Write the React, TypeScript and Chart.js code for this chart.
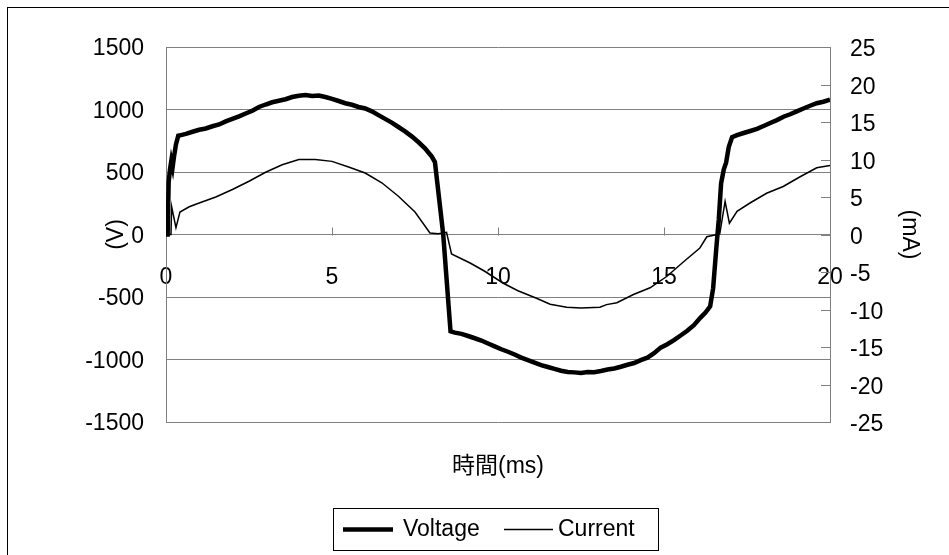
import React, { useEffect, useRef } from "react";
import { Chart, registerables } from "chart.js";

Chart.register(...registerables);

// Voltage trace: sample times (ms) and values (V)
const voltageTimeMs = [
  0, 0.05, 0.08, 0.12, 0.16, 0.2, 0.24, 0.3, 0.37, 0.45, 0.6, 0.8, 1.0, 1.2, 1.4, 1.6, 1.8,
  2.0, 2.2, 2.4, 2.6, 2.8, 3.0, 3.2, 3.4, 3.6, 3.8, 4.0, 4.2, 4.4, 4.6, 4.8, 5.0, 5.2, 5.4,
  5.6, 5.8, 6.0, 6.2, 6.4, 6.6, 6.8, 7.0, 7.2, 7.4, 7.6, 7.8, 8.0, 8.1, 8.35, 8.57, 8.7, 8.9,
  9.1, 9.3, 9.5, 9.7, 9.9, 10.1, 10.3, 10.5, 10.7, 10.9, 11.1, 11.3, 11.5, 11.7, 11.9, 12.1,
  12.3, 12.5, 12.7, 12.9, 13.1, 13.3, 13.5, 13.7, 13.9, 14.1, 14.3, 14.5, 14.7, 14.9, 15.1,
  15.3, 15.5, 15.7, 15.9, 16.1, 16.25, 16.39, 16.48, 16.58, 16.65, 16.72, 16.8, 16.87, 16.95,
  17.05, 17.2, 17.4, 17.6, 17.8, 18.0, 18.2, 18.4, 18.6, 18.8, 19.0, 19.2, 19.4, 19.6, 19.8, 20.0,
];
const voltageV = [
  0, 0, 420, 520, 590, 540, 620, 720, 790, 795, 805, 822, 838, 848, 866, 880, 905,
  925, 945, 968, 990, 1020, 1040, 1058, 1070, 1082, 1100, 1110, 1115, 1108, 1112, 1100, 1085, 1068, 1050,
  1038, 1020, 1008, 985, 955, 925, 895, 860, 825, 785, 740, 690, 625, 580, 0, -775, -785, -795,
  -812, -830, -848, -872, -895, -918, -938, -960, -985, -1005, -1025, -1045, -1060, -1075, -1090, -1100,
  -1103, -1108, -1100, -1102, -1092, -1080, -1072, -1058, -1042, -1028, -1005, -985, -950, -905, -878,
  -845, -808, -770, -725, -665, -625, -575, -430, -95, 120, 410, 520, 575, 700,
  778, 795, 812, 828, 845, 868, 892, 915, 942, 962, 985, 1008, 1030, 1050, 1062, 1078,
];

// Current trace: sample times (ms) and values (mA)
const currentTimeMs = [
  0, 0.15, 0.17, 0.3, 0.42, 0.7, 1.0, 1.5, 2.0, 2.5, 3.0, 3.5, 4.0, 4.5, 5.0, 5.5, 6.0, 6.5,
  7.0, 7.5, 7.95, 8.2, 8.45, 8.6, 9.16, 9.6, 10.16, 10.6, 11.16, 11.57, 12.07, 12.5, 13.07,
  13.27, 13.58, 14.08, 14.58, 15.08, 15.6, 16.08, 16.29, 16.6, 16.68, 16.84, 16.97, 17.2,
  17.59, 18.09, 18.59, 19.1, 19.6, 20.0,
];
const currentMA = [
  0, 0, 3.7, 0.9, 3.0, 3.7, 4.2, 5.0, 6.0, 7.1, 8.3, 9.3, 10.0, 10.0, 9.75, 9.0, 8.2, 6.9,
  5.1, 3.0, 0.2, 0.1, 0.3, -2.6, -3.8, -4.9, -6.5, -7.5, -8.5, -9.3, -9.7, -9.8, -9.7,
  -9.35, -9.1, -8.0, -7.1, -5.6, -3.6, -1.8, -0.3, 0, 0.1, 4.4, 1.5, 3.1,
  4.2, 5.5, 6.4, 7.7, 8.9, 9.2,
];

const timeTicks = [0, 5, 10, 15, 20];
const voltageTicks = [-1500, -1000, -500, 0, 500, 1000, 1500];
const currentTicks = [-25, -20, -15, -10, -5, 0, 5, 10, 15, 20, 25];

const seriesNames = ["Voltage", "Current"];
const timeTitle = "時間(ms)";
const voltageTitle = "(V)";
const currentTitle = "(mA)";

const FONT = '"Liberation Sans", Arial, sans-serif';
const TITLE_FONT = '"Liberation Sans", "Noto Sans CJK JP", sans-serif';
const FONT_SIZE = 23;
const AXIS_GRAY = "#808080";

const decorPlugin = {
  id: "decor",
  beforeDraw(chart: any) {
    const { ctx, width, height } = chart;
    ctx.save();
    ctx.fillStyle = "#fff";
    ctx.fillRect(0, 0, width, height);
    // outer frame (runs off the right and bottom edges)
    ctx.strokeStyle = "#000";
    ctx.lineWidth = 1;
    ctx.strokeRect(7.5, 7.5, width + 20, height + 20);
    ctx.restore();
  },
  beforeDatasetsDraw(chart: any) {
    const { ctx, scales } = chart;
    const x = scales.x;
    const y = scales.y;
    const y1 = scales.y1;
    ctx.save();
    ctx.strokeStyle = AXIS_GRAY;
    ctx.lineWidth = 1;
    // time ticks rising from the zero line
    const zero = Math.round(y.getPixelForValue(0)) + 0.5;
    ctx.beginPath();
    timeTicks.forEach((t) => {
      const px = Math.round(x.getPixelForValue(t)) + 0.5;
      ctx.moveTo(px, zero);
      ctx.lineTo(px, zero - 8);
    });
    // current-axis ticks pointing into the plot
    const right = Math.round(y1.left);
    currentTicks.forEach((v) => {
      const py = Math.round(y1.getPixelForValue(v)) + 0.5;
      ctx.moveTo(right, py);
      ctx.lineTo(right - 9, py);
    });
    ctx.stroke();
    ctx.restore();
  },
  afterDraw(chart: any) {
    const { ctx, chartArea } = chart;
    ctx.save();
    ctx.fillStyle = "#000";
    ctx.textAlign = "center";
    ctx.textBaseline = "middle";
    ctx.font = `${FONT_SIZE}px ${TITLE_FONT}`;

    const midY = (chartArea.top + chartArea.bottom) / 2;
    ctx.save();
    ctx.translate(117, midY);
    ctx.rotate(-Math.PI / 2);
    ctx.fillText(voltageTitle, 0, 0);
    ctx.restore();

    ctx.save();
    ctx.translate(909, midY);
    ctx.rotate(Math.PI / 2);
    ctx.fillText(currentTitle, 0, 0);
    ctx.restore();

    ctx.fillText(timeTitle, (chartArea.left + chartArea.right) / 2, 467);

    // legend
    const ds = chart.data.datasets;
    ctx.strokeStyle = "#000";
    ctx.lineWidth = 1;
    ctx.strokeRect(333.5, 508.5, 325, 42);
    const ly = 529.5;
    ctx.font = `${FONT_SIZE}px ${FONT}`;
    ctx.textAlign = "left";
    const items = [
      { x0: 343, x1: 393, tx: 403 },
      { x0: 504, x1: 553, tx: 558 },
    ];
    items.forEach((it, i) => {
      ctx.beginPath();
      ctx.lineWidth = ds[i].borderWidth;
      ctx.strokeStyle = ds[i].borderColor;
      ctx.moveTo(it.x0, ly);
      ctx.lineTo(it.x1, ly);
      ctx.stroke();
      ctx.fillText(seriesNames[i], it.tx, ly);
    });
    ctx.restore();
  },
};

export default function App() {
  const canvasRef = useRef<HTMLCanvasElement | null>(null);

  useEffect(() => {
    const canvas = canvasRef.current;
    if (!canvas) return;
    const tickFont = { family: FONT, size: FONT_SIZE };
    const chart = new Chart(canvas, {
      type: "line",
      data: {
        datasets: [
          {
            label: seriesNames[0],
            data: voltageTimeMs.map((t, i) => ({ x: t, y: voltageV[i] })),
            borderColor: "#000",
            borderWidth: 4.5,
            pointRadius: 0,
            tension: 0,
            yAxisID: "y",
          },
          {
            label: seriesNames[1],
            data: currentTimeMs.map((t, i) => ({ x: t, y: currentMA[i] })),
            borderColor: "#000",
            borderWidth: 1.5,
            pointRadius: 0,
            tension: 0,
            yAxisID: "y1",
          },
        ],
      },
      options: {
        responsive: false,
        animation: false,
        devicePixelRatio: 1,
        layout: { padding: { top: 47, bottom: 133, left: 0, right: 0 } },
        plugins: { legend: { display: false }, tooltip: { enabled: false } },
        scales: {
          x: {
            type: "linear",
            axis: "x",
            min: 0,
            max: 20,
            position: { y: 0 },
            grid: { display: false, drawTicks: false },
            border: { display: false },
            afterBuildTicks: (s: any) => {
              s.ticks = timeTicks.map((v) => ({ value: v }));
            },
            ticks: {
              autoSkip: false,
              maxRotation: 0,
              minRotation: 0,
              padding: 29,
              color: "#000",
              font: tickFont,
              callback: (v: any) => String(v),
            },
          },
          y: {
            type: "linear",
            position: "left",
            min: -1500,
            max: 1500,
            grid: { color: AXIS_GRAY, lineWidth: 1, drawTicks: false },
            border: { display: true, color: AXIS_GRAY, width: 1 },
            afterBuildTicks: (s: any) => {
              s.ticks = voltageTicks.map((v) => ({ value: v }));
            },
            afterFit: (s: any) => {
              s.width = 166;
            },
            ticks: {
              padding: 22,
              labelOffset: 2,
              color: "#000",
              font: tickFont,
              callback: (v: any) => String(v),
            },
          },
          y1: {
            type: "linear",
            position: "right",
            min: -25,
            max: 25,
            grid: { display: false, drawTicks: false },
            border: { display: true, color: AXIS_GRAY, width: 1 },
            afterBuildTicks: (s: any) => {
              s.ticks = currentTicks.map((v) => ({ value: v }));
            },
            afterFit: (s: any) => {
              s.width = 119;
            },
            ticks: {
              padding: 20,
              labelOffset: 3,
              color: "#000",
              font: tickFont,
              callback: (v: any) => String(v),
            },
          },
        },
      },
      plugins: [decorPlugin],
    });
    return () => chart.destroy();
  }, []);

  return (
    <div style={{ position: "absolute", left: 0, top: 0, width: 949, height: 555 }}>
      <canvas ref={canvasRef} width={949} height={555} />
    </div>
  );
}
